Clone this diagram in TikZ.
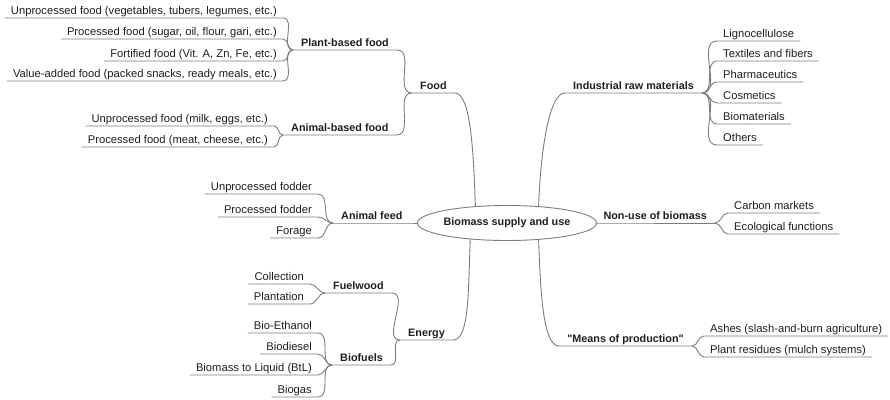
\documentclass[tikz,border=0pt]{standalone}
\usepackage{fontspec}
\setmainfont{Liberation Sans}[Ligatures=TeXOff]
\usetikzlibrary{shapes.geometric}
\definecolor{linecol}{RGB}{125,125,125}
\definecolor{txtcol}{RGB}{30,30,30}
\newcommand{\leaffont}{\fontsize{11.2}{13}\selectfont}
\newcommand{\topicfont}{\fontsize{10.8}{13}\selectfont\bfseries}
\begin{document}
\begin{tikzpicture}[x=1pt,y=-1pt,
  leaf/.style={font=\leaffont, text=txtcol, inner xsep=6pt, inner ysep=3pt, text depth=0pt, text height=8pt},
  topic/.style={font=\topicfont, text=txtcol, inner xsep=8pt, inner ysep=3pt, text depth=0pt, text height=8pt},
  rootnode/.style={ellipse, draw=linecol, line width=0.9pt, font=\topicfont, text=txtcol, minimum width=149pt, minimum height=35pt, inner sep=0pt},
  edge/.style={draw=linecol, line width=0.9pt}
]
\useasboundingbox (0,0) rectangle (890,399);

% root
\node[rootnode] (root) at (507,223) {Biomass supply and use};

% left topics
\node[topic, anchor=south west] (food) at (412,93) {Food};
\node[topic, anchor=south west] (plant) at (293,50) {Plant-based food};
\node[topic, anchor=south west] (animal) at (283,135) {Animal-based food};
\node[topic, anchor=south west] (feed) at (333,223) {Animal feed};
\node[topic, anchor=south west] (energy) at (400,340) {Energy};
\node[topic, anchor=south west] (fuelwood) at (325,293) {Fuelwood};
\node[topic, anchor=south west] (biofuels) at (332,365) {Biofuels};

% right topics
\node[topic, anchor=south east] (industrial) at (702,93) {Industrial raw materials};
\node[topic, anchor=south east] (nonuse) at (715,223) {Non-use of biomass};
\node[topic, anchor=south east] (means) at (692,346) {"Means of production"};

% plant-based leaves
\node[leaf, anchor=south east] (p1) at (283,18) {Unprocessed food (vegetables, tubers, legumes, etc.)};
\node[leaf, anchor=south east] (p2) at (283,39) {Processed food (sugar, oil, flour, gari, etc.)};
\node[leaf, anchor=south east] (p3) at (283,61) {Fortified food (Vit. A, Zn, Fe, etc.)};
\node[leaf, anchor=south east] (p4) at (283,81) {Value-added food (packed snacks, ready meals, etc.)};
% animal-based leaves
\node[leaf, anchor=south east] (a1) at (274,126) {Unprocessed food (milk, eggs, etc.)};
\node[leaf, anchor=south east] (a2) at (274,147) {Processed food (meat, cheese, etc.)};
% feed leaves
\node[leaf, anchor=south east] (f1) at (318,194) {Unprocessed fodder};
\node[leaf, anchor=south east] (f2) at (318,217) {Processed fodder};
\node[leaf, anchor=south east] (f3) at (318,238) {Forage};
% fuelwood leaves
\node[leaf, anchor=south east] (w1) at (310,284) {Collection};
\node[leaf, anchor=south east] (w2) at (310,304) {Plantation};
% biofuel leaves
\node[leaf, anchor=south east] (b1) at (318,333) {Bio-Ethanol};
\node[leaf, anchor=south east] (b2) at (318,354) {Biodiesel};
\node[leaf, anchor=south east] (b3) at (318,375) {Biomass to Liquid (BtL)};
\node[leaf, anchor=south east] (b4) at (318,397) {Biogas};

% industrial leaves
\node[leaf, anchor=south west] (i1) at (717,41) {Lignocellulose};
\node[leaf, anchor=south west] (i2) at (717,61) {Textiles and fibers};
\node[leaf, anchor=south west] (i3) at (717,82) {Pharmaceutics};
\node[leaf, anchor=south west] (i4) at (717,103) {Cosmetics};
\node[leaf, anchor=south west] (i5) at (717,124) {Biomaterials};
\node[leaf, anchor=south west] (i6) at (717,145) {Others};
% non-use leaves
\node[leaf, anchor=south west] (n1) at (728,213) {Carbon markets};
\node[leaf, anchor=south west] (n2) at (728,234) {Ecological functions};
% means leaves
\node[leaf, anchor=south west] (m1) at (704,336) {Ashes (slash-and-burn agriculture)};
\node[leaf, anchor=south west] (m2) at (704,357) {Plant residues (mulch systems)};

% left-side connectors (child underline, then curve into parent junction)
\foreach \c/\p in {p1/plant,p2/plant,p3/plant,p4/plant,a1/animal,a2/animal,
                   f1/feed,f2/feed,f3/feed,w1/fuelwood,w2/fuelwood,
                   b1/biofuels,b2/biofuels,b3/biofuels,b4/biofuels,
                   plant/food,animal/food,fuelwood/energy,biofuels/energy}
  \draw[edge] (\c.south west) -- (\c.south east) to[out=0,in=180] (\p.south west);

% right-side connectors
\foreach \p/\c in {industrial/i1,industrial/i2,industrial/i3,industrial/i4,industrial/i5,industrial/i6,
                   nonuse/n1,nonuse/n2,means/m1,means/m2}
  \draw[edge] (\p.south east) to[out=0,in=180] (\c.south west) -- (\c.south east);

% root connectors
\draw[edge] (food.south west) -- (food.south east) .. controls +(16,0) and +(-2,-55) .. (root.152);
\draw[edge] (energy.south west) -- (energy.south east) .. controls +(16,0) and +(-2,55) .. (root.204);
\draw[edge] (feed.south west) -- (feed.south east) -- (root.west);
\draw[edge] (root.28) .. controls +(2,-55) and +(-16,0) .. (industrial.south west) -- (industrial.south east);
\draw[edge] (root.332) .. controls +(2,55) and +(-16,0) .. (means.south west) -- (means.south east);
\draw[edge] (root.east) -- (nonuse.south west) -- (nonuse.south east);
\end{tikzpicture}
\end{document}
